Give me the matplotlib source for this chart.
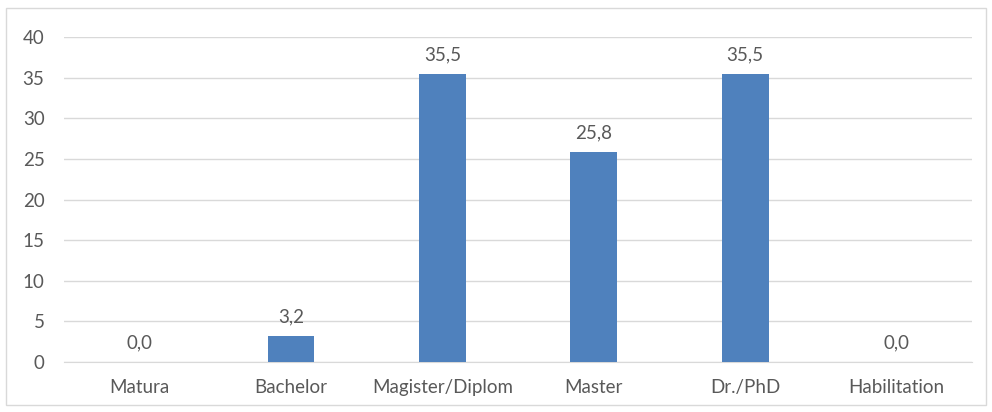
import matplotlib.pyplot as plt
from matplotlib.patches import Rectangle

categorias = ['Matura', 'Bachelor', 'Magister/Diplom', 'Master', 'Dr./PhD', 'Habilitation']
valores = [0.0, 3.2, 35.5, 25.8, 35.5, 0.0]
ticks_y = [0, 5, 10, 15, 20, 25, 30, 35, 40]

plt.rcParams['font.family'] = ['Lato', 'DejaVu Sans']
texto = '#595959'
tam = 13.5

fig = plt.figure(figsize=(9.92, 4.12), dpi=100)
ax = fig.add_axes([0.0645, 0.1214, 0.9155, 0.7886])

x = range(len(categorias))
ax.bar(x, valores, width=0.31, color='#4F81BD', zorder=3)
for xi, v in zip(x, valores):
    ax.text(xi, v + 1.3, f'{v:.1f}'.replace('.', ','), ha='center', va='bottom',
            fontsize=tam, color=texto)

ax.set_xlim(-0.5, len(categorias) - 0.5)
ax.set_ylim(0, 40)
ax.set_yticks(ticks_y)
ax.set_xticks(list(x))
ax.set_xticklabels(categorias)
ax.tick_params(axis='both', length=0, labelsize=tam, labelcolor=texto)
ax.tick_params(axis='x', pad=12)
ax.tick_params(axis='y', pad=14)
ax.grid(axis='y', color='#D9D9D9', linewidth=1, zorder=0)
for lado in ['top', 'right', 'left']:
    ax.spines[lado].set_visible(False)
ax.spines['bottom'].set_color('#D9D9D9')

# marco del gráfico
fig.patches.append(Rectangle((6 / 992, 7 / 412), 980 / 992, 397 / 412,
                             transform=fig.transFigure, fill=False,
                             edgecolor='#D9D9D9', linewidth=1))

plt.savefig('out.png')
plt.close()
